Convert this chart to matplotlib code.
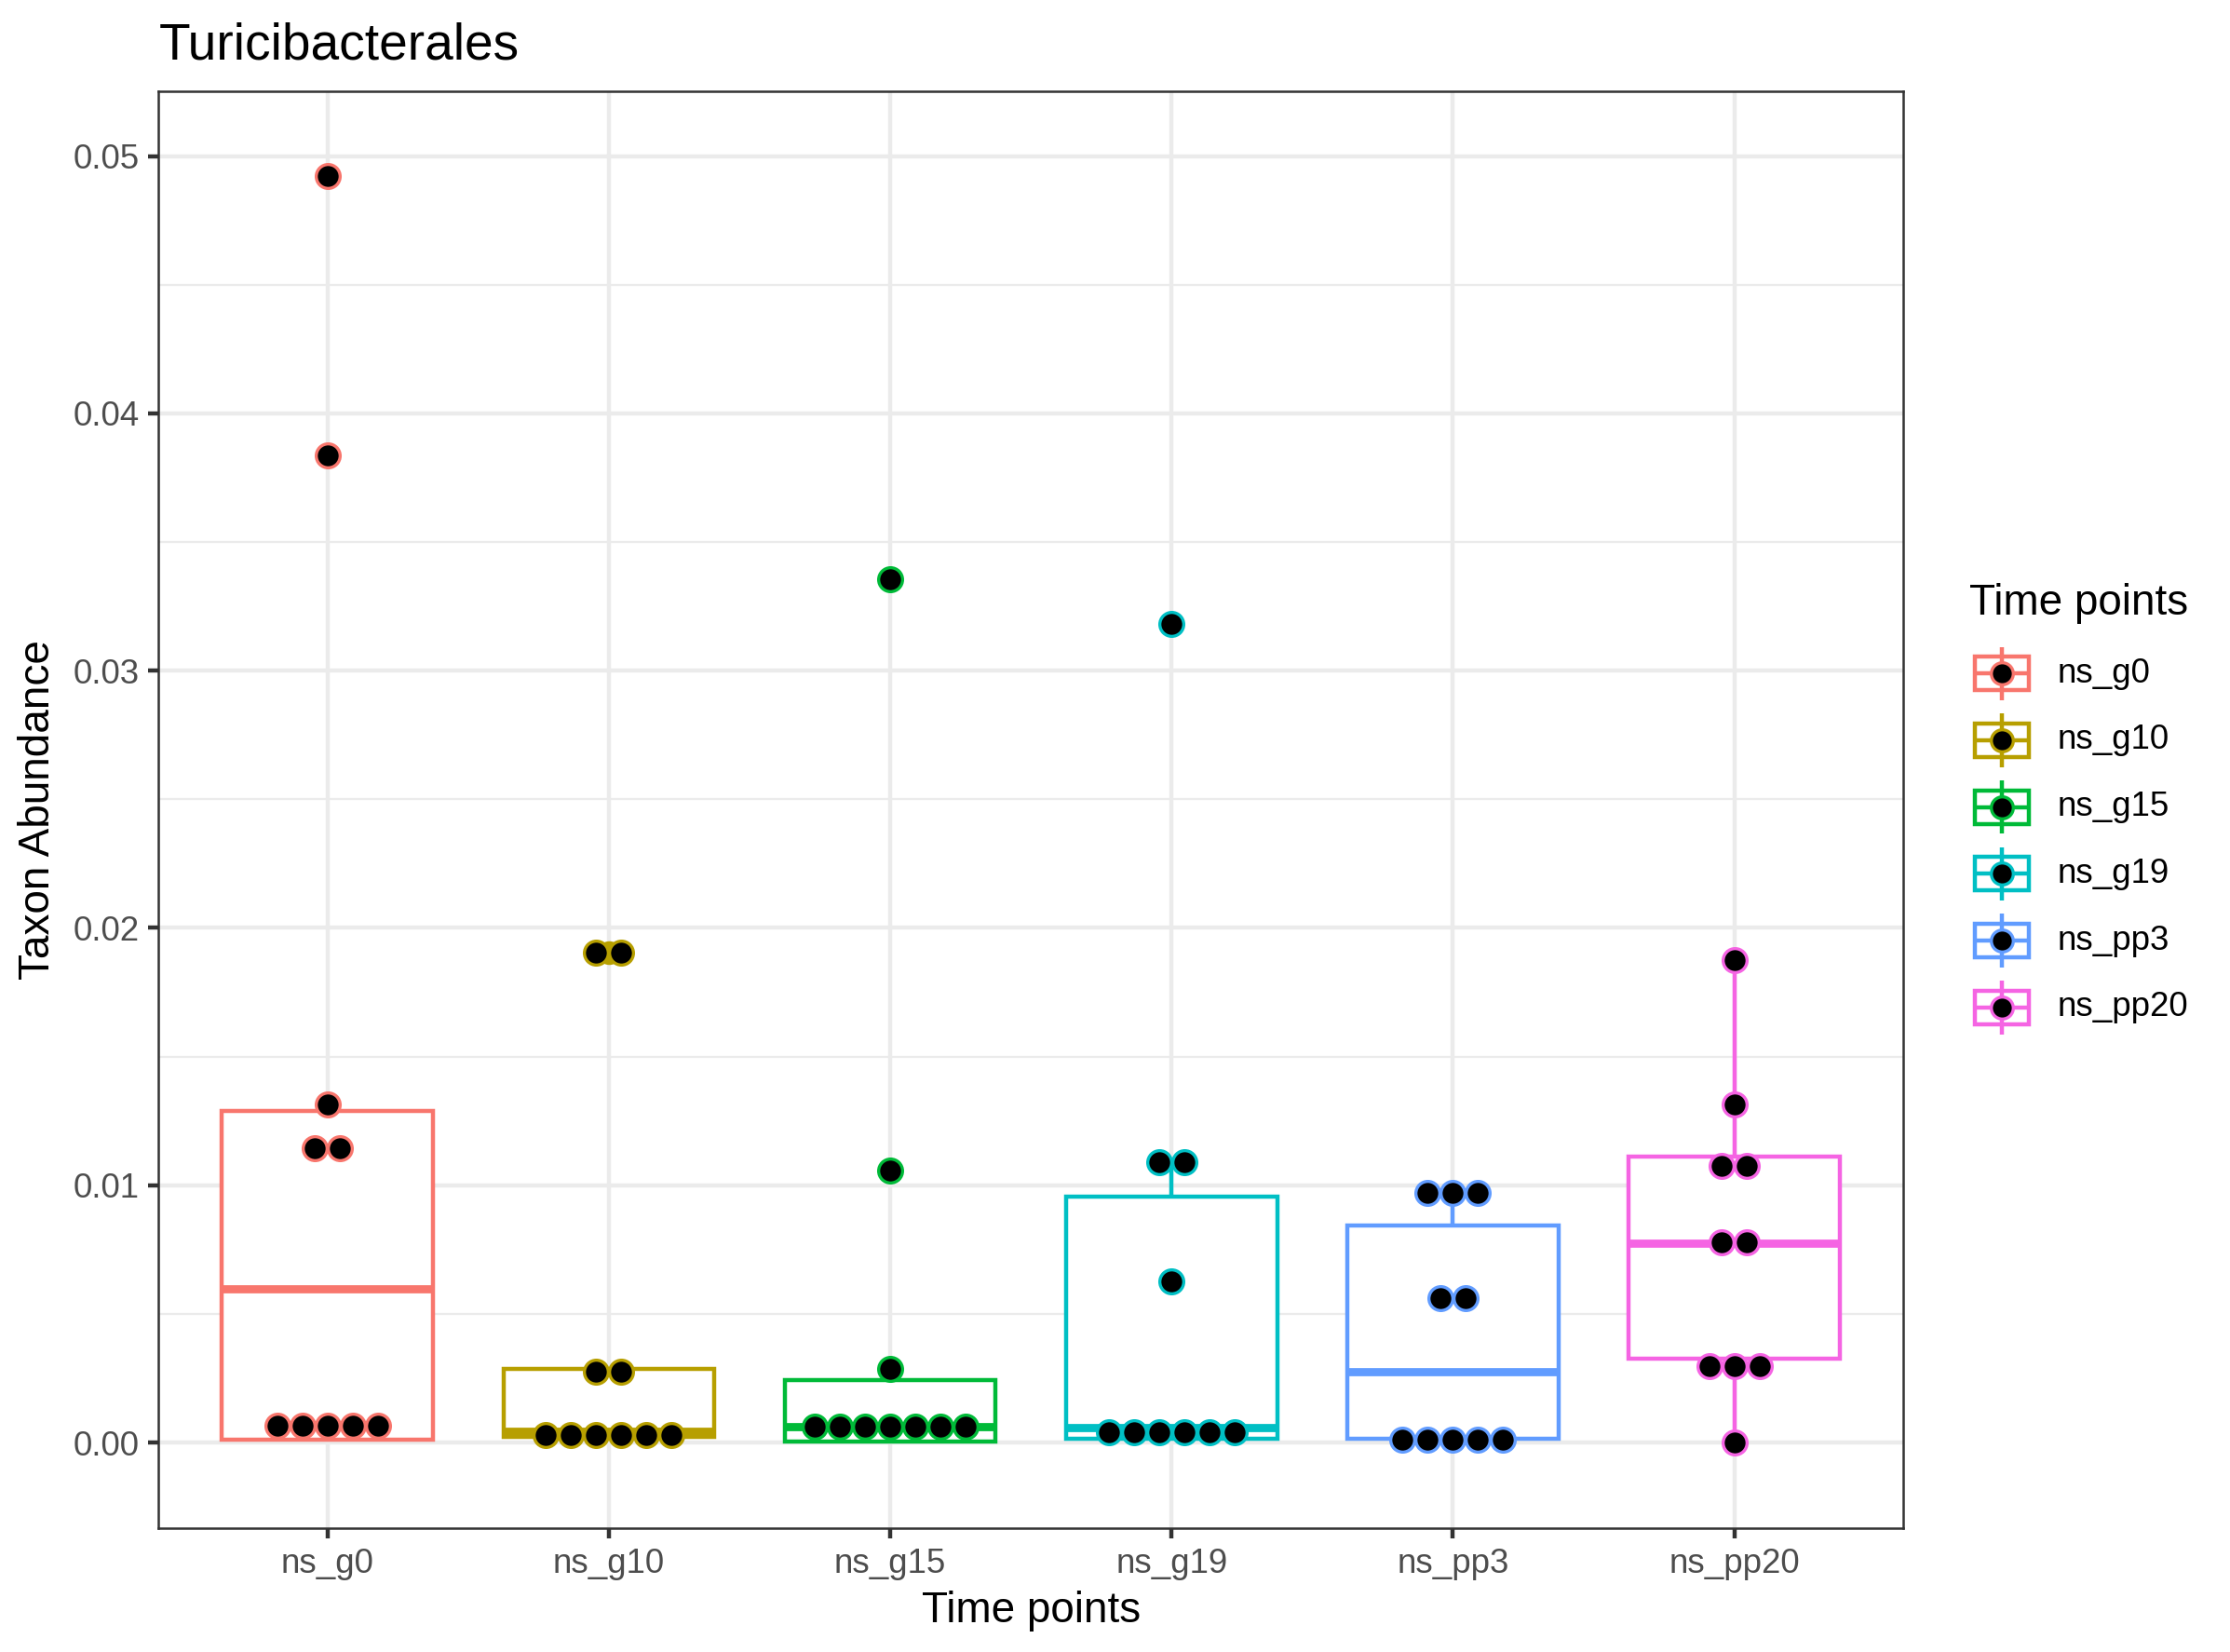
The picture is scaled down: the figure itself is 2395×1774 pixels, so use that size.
import matplotlib
matplotlib.use("Agg")
import matplotlib.pyplot as plt
import numpy as np
from matplotlib.patches import Rectangle
from matplotlib.ticker import MultipleLocator, FormatStrFormatter

plt.rcParams['font.family'] = ['Liberation Sans', 'DejaVu Sans']

# ---------------- data ----------------
categories = ['ns_g0', 'ns_g10', 'ns_g15', 'ns_g19', 'ns_pp3', 'ns_pp20']
colors = ['#F8766D', '#B79F00', '#00BA38', '#00BFC4', '#619CFF', '#F564E3']

# dot-plot rows (binned y value, number of stacked dots)
g0_dot_y = [0.00065, 0.01143, 0.01313, 0.03838, 0.04921]
g0_dot_n = [5, 2, 1, 1, 1]
g10_dot_y = [0.00030, 0.00276, 0.01903]
g10_dot_n = [6, 2, 2]
g15_dot_y = [0.00060, 0.00286, 0.01058, 0.03357]
g15_dot_n = [7, 1, 1, 1]
g19_dot_y = [0.00039, 0.00627, 0.01088, 0.03180]
g19_dot_n = [6, 1, 2, 1]
pp3_dot_y = [0.00012, 0.00561, 0.00971]
pp3_dot_n = [5, 2, 3]
pp20_dot_y = [0.00000, 0.00298, 0.00777, 0.01076, 0.01315, 0.01875]
pp20_dot_n = [1, 3, 2, 2, 1, 1]

dot_y = [g0_dot_y, g10_dot_y, g15_dot_y, g19_dot_y, pp3_dot_y, pp20_dot_y]
dot_n = [g0_dot_n, g10_dot_n, g15_dot_n, g19_dot_n, pp3_dot_n, pp20_dot_n]

# boxplot statistics
box_whislo = [0.00012, 0.00010, 0.00000, 0.00010, 0.00010, 0.00000]
box_q1     = [0.00012, 0.00023, 0.00003, 0.00014, 0.00014, 0.00325]
box_med    = [0.00596, 0.00045, 0.00063, 0.00057, 0.00276, 0.00776]
box_q3     = [0.01290, 0.00286, 0.00244, 0.00956, 0.00845, 0.01112]
box_whishi = [0.01313, 0.00286, 0.00286, 0.01088, 0.00971, 0.01875]
box_fliers = [[0.03838, 0.04921], [0.01903], [0.01058, 0.03357], [0.03180], [], []]

y_ticks = [0.00, 0.01, 0.02, 0.03, 0.04, 0.05]

# ---------------- figure ----------------
W, H, DPI = 2395, 1774, 300
fig = plt.figure(figsize=(W / DPI, H / DPI), dpi=DPI)
fig.patch.set_facecolor('white')

pl, pr, pt, pb = 170.3, 2044.0, 98.3, 1641.0
ax = fig.add_axes([pl / W, 1 - pb / H, (pr - pl) / W, (pb - pt) / H])

LW = 1.07
positions = np.arange(1, len(categories) + 1)
for i, c in enumerate(colors):
    st = dict(whislo=box_whislo[i], q1=box_q1[i], med=box_med[i], q3=box_q3[i],
              whishi=box_whishi[i], fliers=box_fliers[i])
    ax.bxp([st], positions=[positions[i]], widths=0.75, showcaps=False,
           patch_artist=True, manage_ticks=False, zorder=2,
           boxprops=dict(facecolor='white', edgecolor=c, linewidth=LW),
           whiskerprops=dict(color=c, linewidth=LW, solid_capstyle='butt'),
           medianprops=dict(color=c, linewidth=2.1, solid_capstyle='butt'),
           flierprops=dict(marker='o', markerfacecolor=c, markeredgecolor=c,
                           markersize=5.5, markeredgewidth=0.6))

px_per_unit = (pr - pl) / 6.2
spacing = 27.0 / px_per_unit
for i, c in enumerate(colors):
    for yv, n in zip(dot_y[i], dot_n[i]):
        xs = positions[i] + (np.arange(n) - (n - 1) / 2) * spacing
        ax.scatter(xs, [yv] * n, s=38, c='black', edgecolors=c,
                   linewidths=0.8, zorder=4, clip_on=False)

ax.set_xlim(0.4, 6.6)
ax.set_ylim(-0.00333, 0.05251)
ax.set_xticks(positions)
ax.set_xticklabels(categories)
ax.set_yticks(y_ticks)
ax.yaxis.set_major_formatter(FormatStrFormatter('%.2f'))
ax.yaxis.set_minor_locator(MultipleLocator(0.005))

ax.set_axisbelow(True)
ax.grid(True, which='major', axis='both', color='#EBEBEB', linewidth=1.07)
ax.grid(True, which='minor', axis='y', color='#EBEBEB', linewidth=0.53)
ax.tick_params(which='major', length=2.75, width=1.07, color='#333333',
               labelcolor='#4D4D4D', labelsize=8.8, pad=2.2)
ax.tick_params(which='minor', length=0)
for sp in ax.spines.values():
    sp.set_color('#333333')
    sp.set_linewidth(0.6)

# titles
fig.text(pl / W, 1 - 63 / H, 'Turicibacterales', fontsize=13.2, ha='left',
         va='baseline', color='black')
fig.text((pl + pr) / 2 / W, 1 - 1742 / H, 'Time points', fontsize=11,
         ha='center', va='baseline', color='black')
fig.text(41 / W, 1 - (pt + pb) / 2 / H, 'Taxon Abundance', fontsize=11,
         rotation=90, ha='center', va='center', color='black')

# ---------------- legend (drawn as key glyphs) ----------------
lax = fig.add_axes([0, 0, 1, 1], zorder=5)
lax.set_xlim(0, W)
lax.set_ylim(H, 0)
lax.axis('off')
lax.patch.set_alpha(0)

K = 72.0
key_cx = 2150.0
key_y0 = 723.3
key_step = 71.7
lax.text(2115, 660, 'Time points', fontsize=11, ha='left', va='baseline')
for i, (lab, c) in enumerate(zip(categories, colors)):
    cy = key_y0 + i * key_step
    lax.plot([key_cx, key_cx], [cy - 0.4 * K, cy + 0.4 * K], color=c, lw=LW,
             solid_capstyle='butt')
    lax.add_patch(Rectangle((key_cx - 0.4 * K, cy - 0.25 * K), 0.8 * K, 0.5 * K,
                            facecolor='white', edgecolor=c, lw=LW))
    lax.plot([key_cx - 0.4 * K, key_cx + 0.4 * K], [cy, cy], color=c, lw=LW,
             solid_capstyle='butt')
    lax.scatter([key_cx], [cy], s=32, c='black', edgecolors=c, linewidths=0.8,
                zorder=3)
    lax.text(2210, cy, lab, fontsize=8.8, ha='left', va='center',
             color='black')

fig.savefig('out.png', dpi=DPI, facecolor='white')
